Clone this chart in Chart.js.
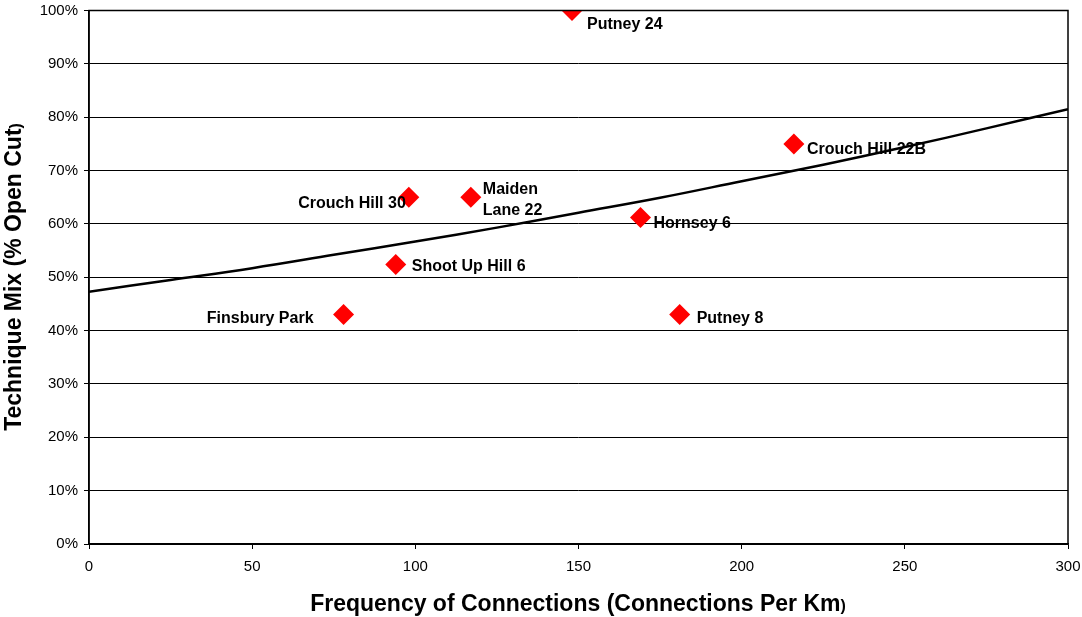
<!DOCTYPE html>
<html>
<head>
<meta charset="utf-8">
<script src="https://cdn.jsdelivr.net/npm/chart.js@4"></script>
<style>
  body { margin: 0; background: #fff; }
  #wrap { width: 1082px; height: 617px; position: relative; }
</style>
</head>
<body>
<div id="wrap"><canvas id="myChart"></canvas></div>
<script>
// site data (connections per km vs % open cut)
var siteNames = ['Putney 24', 'Crouch Hill 22B', 'Crouch Hill 30', 'Maiden Lane 22', 'Hornsey 6', 'Shoot Up Hill 6', 'Finsbury Park', 'Putney 8'];
var siteFreq = [148, 216, 98, 117, 169, 94, 78, 181];
var siteMix = [100, 75, 65, 65, 61.2, 52.4, 43, 43];

// trend line
var trendFreq = [0, 25, 50, 75, 100, 125, 150, 175, 200, 225, 250, 275, 300];
var trendMix = [47.3, 49.5, 51.7, 54.2, 56.7, 59.3, 62.1, 64.9, 68.0, 71.1, 74.4, 77.9, 81.5];

var xTicks = [0, 50, 100, 150, 200, 250, 300];
var yTicks = [0, 10, 20, 30, 40, 50, 60, 70, 80, 90, 100];

// label placement: dx, dy from the marker, text alignment
var labelPos = [
    [15, 14, 'left'], [13, 6, 'left'], [-3, 6, 'right'], [12, -8, 'left'],
    [13, 6, 'left'], [16, 2, 'left'], [-30, 4, 'right'], [17, 4, 'left']
];

var FONT = '"Liberation Sans", Arial, sans-serif';

var points = siteFreq.map(function(f, i){ return {x: f, y: siteMix[i]}; });
var trend = trendFreq.map(function(f, i){ return {x: f, y: trendMix[i]}; });

// draw a title with a smaller closing bracket, centred on 0,0
function titleText(ctx, main, tail) {
    ctx.font = 'bold 23px ' + FONT;
    var w1 = ctx.measureText(main).width;
    ctx.font = 'bold 16px ' + FONT;
    var w2 = ctx.measureText(tail).width;
    var x0 = -(w1 + w2) / 2;
    ctx.textAlign = 'left';
    ctx.font = 'bold 23px ' + FONT;
    ctx.fillText(main, x0, 0);
    ctx.font = 'bold 16px ' + FONT;
    ctx.fillText(tail, x0 + w1, 2);
}

// frame, labels and axis titles
var extras = {
    id: 'extras',
    afterDatasetsDraw: function(chart) {
        var ctx = chart.ctx;
        var a = chart.chartArea;
        ctx.save();
        ctx.strokeStyle = '#000';
        ctx.lineWidth = 1.5;
        ctx.strokeRect(a.left, a.top, a.right - a.left, a.bottom - a.top);

        ctx.fillStyle = '#000';
        ctx.font = 'bold 16px ' + FONT;
        ctx.textBaseline = 'middle';
        var meta = chart.getDatasetMeta(1);
        meta.data.forEach(function(pt, i){
            var p = labelPos[i];
            ctx.textAlign = p[2];
            var x = pt.x + p[0], y = pt.y + p[1];
            if (siteNames[i] === 'Maiden Lane 22') {
                ctx.fillText('Maiden', x, y);
                ctx.fillText('Lane 22', x, y + 21);
            } else {
                ctx.fillText(siteNames[i], x, y);
            }
        });

        // axis titles
        ctx.save();
        ctx.translate(578, 605);
        titleText(ctx, 'Frequency of Connections (Connections Per Km', ')');
        ctx.restore();
        ctx.translate(15, 277);
        ctx.rotate(-Math.PI / 2);
        titleText(ctx, 'Technique Mix (% Open Cut', ')');
        ctx.restore();
    }
};

var ctx = document.getElementById('myChart').getContext('2d');
var chart = new Chart(ctx, {
    type: 'scatter',
    data: {
        datasets: [{
            label: 'Trend',
            data: trend,
            showLine: true,
            borderColor: '#000',
            borderWidth: 2.5,
            pointRadius: 0,
            tension: 0.4
        }, {
            label: 'Sites',
            data: points,
            pointStyle: 'rectRot',
            pointRadius: 10.5,
            pointHoverRadius: 10.5,
            backgroundColor: '#ff0000',
            borderColor: '#ff0000',
            borderWidth: 0
        }]
    },
    options: {
        responsive: true,
        maintainAspectRatio: false,
        animation: false,
        layout: { padding: { top: 10, right: 14, left: 0, bottom: 0 } },
        plugins: { legend: { display: false }, tooltip: { enabled: false } },
        scales: {
            x: {
                type: 'linear', min: 0, max: 300,
                afterBuildTicks: function(s){ s.ticks = xTicks.map(function(v){ return {value: v}; }); },
                afterFit: function(s){ s.height = 73; s.paddingLeft = 0; s.paddingRight = 0; },
                grid: { drawOnChartArea: false, drawTicks: true, tickLength: 5, color: '#000' },
                border: { color: '#000', width: 1.5 },
                ticks: { color: '#000', font: { family: FONT, size: 15 }, padding: 9, maxRotation: 0 }
            },
            y: {
                min: 0, max: 100,
                afterBuildTicks: function(s){ s.ticks = yTicks.map(function(v){ return {value: v}; }); },
                afterFit: function(s){ s.width = 89; s.paddingTop = 0; s.paddingBottom = 0; },
                grid: { color: '#000', lineWidth: 1, drawTicks: true, tickLength: 5 },
                border: { color: '#000', width: 1.5 },
                ticks: { color: '#000', font: { family: FONT, size: 15 }, padding: 6,
                    callback: function(v){ return v + '%'; } }
            }
        }
    },
    plugins: [extras]
});
</script>
</body>
</html>
